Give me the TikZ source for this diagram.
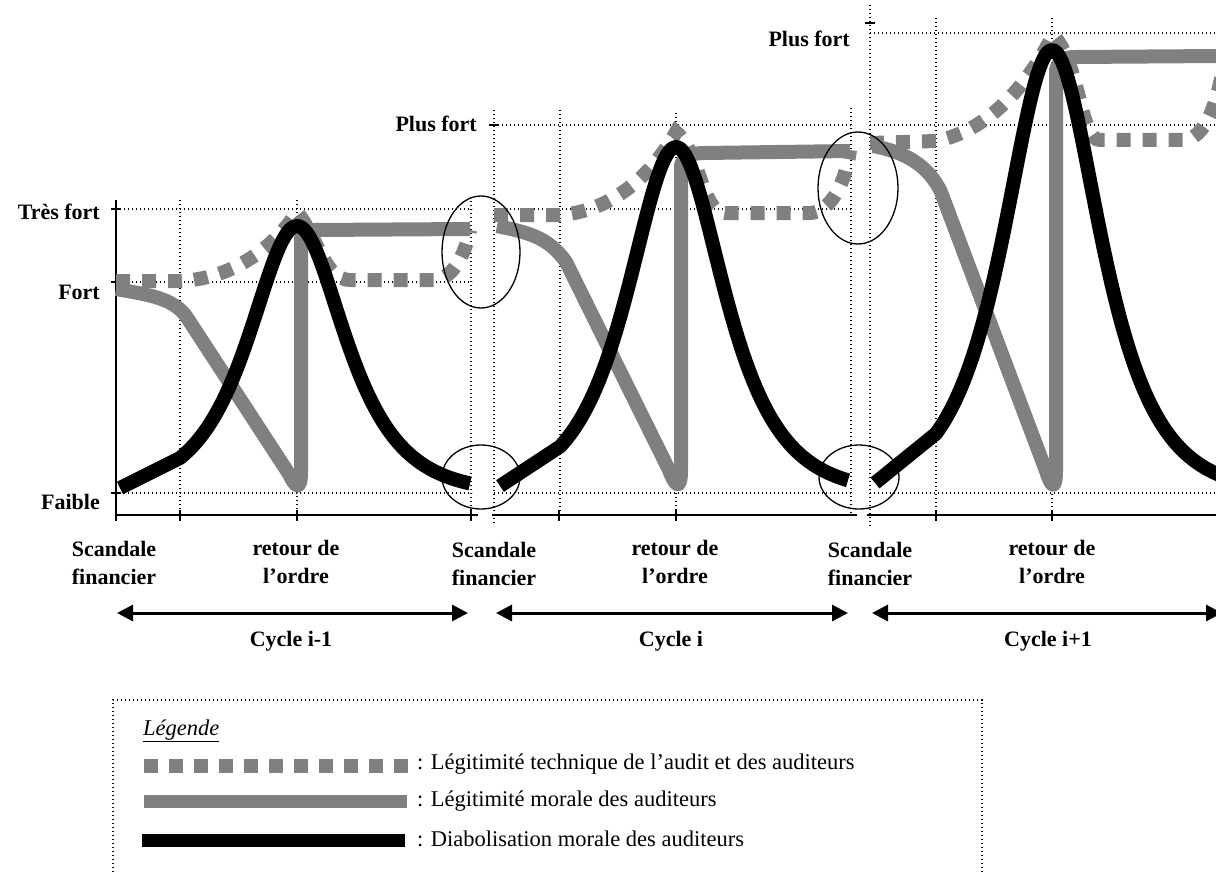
\documentclass[tikz,border=0pt]{standalone}
\usepackage{fontspec}
\setmainfont{Liberation Serif}
\usetikzlibrary{arrows.meta}
\definecolor{midgray}{RGB}{128,128,128}
\begin{document}
\begin{tikzpicture}[x=1pt,y=-1pt,
  declare function={pk(\x,\c,\a)=493-\a/cosh((\x-\c)/43);},
  dotln/.style={line width=1.4pt, dash pattern=on 1.4pt off 2.6pt},
  axisln/.style={line width=2.2pt},
  tickln/.style={line width=2pt},
  blk/.style={line width=14pt, line join=round},
  gsolid/.style={line width=14pt, draw=midgray, line join=round},
  gdot/.style={line width=14pt, draw=midgray, dash pattern=on 14pt off 12pt},
  ell/.style={line width=1.3pt},
  lbl/.style={font=\fontsize{22}{28}\selectfont\bfseries, inner sep=0pt, align=center},
  leg/.style={font=\fontsize{22.5}{28}\selectfont, inner sep=0pt, anchor=west},
  cyc/.style={line width=3pt, {Triangle[length=16pt,width=16pt]}-{Triangle[length=16pt,width=16pt]}}
]
\path[use as bounding box, clip] (0,0) rectangle (1216,872);
\fill[white] (0,0) rectangle (1216,872);

% ---------- dotted grid ----------
% panel 1
\draw[dotln] (116,209) -- (472,209);
\draw[dotln] (116,282) -- (472,282);
\draw[dotln] (116,493) -- (472,493);
\draw[dotln] (180,200) -- (180,515);
\draw[dotln] (297,200) -- (297,515);
\draw[dotln] (471,197) -- (471,515);
% panel 2
\draw[dotln] (494,125) -- (851,125);
\draw[dotln] (494,209) -- (851,209);
\draw[dotln] (494,493) -- (851,493);
\draw[dotln] (494,110) -- (494,526);
\draw[dotln] (560,110) -- (560,515);
\draw[dotln] (676,113) -- (676,515);
\draw[dotln] (851,108) -- (851,515);
% panel 3
\draw[dotln] (870,33) -- (1216,33);
\draw[dotln] (870,125) -- (1216,125);
\draw[dotln] (870,493) -- (1216,493);
\draw[dotln] (870,5) -- (870,526);
\draw[dotln] (936,18) -- (936,515);
\draw[dotln] (1052,18) -- (1052,515);

% ---------- axes ----------
\draw[axisln] (116,200) -- (116,521);
\draw[axisln] (116,515) -- (478,515);
\draw[axisln] (492,515) -- (857,515);
\draw[axisln] (867,515) -- (1216,515);
\foreach \yy in {209,282,493} \draw[tickln] (111,\yy) -- (121,\yy);
\draw[tickln] (489,125) -- (499,125);
\draw[tickln] (865,23) -- (875,23);
\foreach \xx in {180,297,471,559,676,936,1052} \draw[tickln] (\xx,510) -- (\xx,521);

% ---------- legitimite morale (gray solid) ----------
\draw[gsolid] (116,289) .. controls (150,295) and (172,298) .. (186,316)
  -- (289,474) .. controls (295,487) and (301,492) .. (301,472)
  -- (301,240) .. controls (301,233) and (305,230) .. (315,230) -- (470,229);
\draw[gsolid] (497,226) .. controls (525,232) and (548,236) .. (566,262)
  -- (669,470) .. controls (675,486) and (681,492) .. (681,470)
  -- (681,165) .. controls (684,156) and (692,153) .. (705,153) -- (850,151);
\draw[gsolid] (873,146) .. controls (905,152) and (928,165) .. (941,192)
  -- (1046,471) .. controls (1051,487) and (1056,492) .. (1056,470)
  -- (1056,70) .. controls (1058,62) and (1063,57) .. (1075,57) -- (1220,56);

% ---------- legitimite technique (gray dotted) ----------
\draw[gdot] (116,281) -- (180,281) .. controls (230,279) and (272,250) .. (297,212)
  .. controls (318,238) and (325,280) .. (350,280) -- (435,280)
  .. controls (455,278) and (466,250) .. (470,230);
\draw[gdot] (494,215) -- (560,215) .. controls (612,211) and (652,175) .. (676,132)
  .. controls (700,152) and (702,213) .. (725,213) -- (810,213)
  .. controls (832,212) and (846,180) .. (850,150);
\draw[gdot] (870,143) -- (936,141) .. controls (992,130) and (1030,80) .. (1053,35)
  .. controls (1080,62) and (1080,140) .. (1100,140) -- (1185,140)
  .. controls (1210,136) and (1220,90) .. (1226,50);

% ---------- diabolisation morale (black) ----------
\draw[blk] (120,488) -- plot[domain=180:470, samples=120] (\x,{pk(\x,297,267)});
\draw[blk] (500,486) -- plot[domain=560:848, samples=120] (\x,{pk(\x,676,346)});
\draw[blk] (875,483) -- plot[domain=936:1230, samples=120] (\x,{pk(\x,1052,443)});

% ---------- ellipses ----------
\draw[ell] (481,252) ellipse [x radius=39pt, y radius=56pt];
\draw[ell] (481,477) ellipse [x radius=39pt, y radius=32pt];
\draw[ell] (858,188) ellipse [x radius=40pt, y radius=56pt];
\draw[ell] (859,477) ellipse [x radius=40pt, y radius=32pt];

% ---------- level labels ----------
\node[lbl, anchor=east] (tf) at (100,212) {Très fort};
\node[lbl, anchor=east] (fo) at (100,292) {Fort};
\node[lbl, anchor=east] (fa) at (100,502) {Faible};
\node[lbl, anchor=east] (pf1) at (477,124) {Plus fort};
\node[lbl, anchor=east] (pf2) at (850,39) {Plus fort};

% ---------- event labels ----------
\node[lbl] (s1) at (114,563) {Scandale\\financier};
\node[lbl] (r1) at (296,562) {retour de\\l’ordre};
\node[lbl] (s2) at (494,564) {Scandale\\financier};
\node[lbl] (r2) at (675,562) {retour de\\l’ordre};
\node[lbl] (s3) at (870,564) {Scandale\\financier};
\node[lbl] (r3) at (1052,562) {retour de\\l’ordre};

% ---------- cycles ----------
\coordinate (a1) at (117,613); \coordinate (b1) at (468,613);
\coordinate (a2) at (496,613); \coordinate (b2) at (848,613);
\coordinate (a3) at (872,613); \coordinate (b3) at (1222,613);
\draw[cyc] (a1) -- (b1);
\draw[cyc] (a2) -- (b2);
\draw[cyc] (a3) -- (b3);
\node[lbl] (c1) at (291,641) {Cycle i-1};
\node[lbl] (c2) at (671,641) {Cycle i};
\node[lbl] (c3) at (1048,641) {Cycle i+1};

% ---------- legend ----------
\draw[dotln] (113,880) -- (113,700) -- (982,700) -- (982,880);
\node[leg] (lt) at (143,731) {\underline{\textit{Légende}}};
\draw[line width=14pt, draw=midgray, dash pattern=on 14pt off 11pt] (144,766) -- (408,766);
\draw[line width=13pt, draw=midgray] (144,801) -- (407,801);
\draw[line width=13pt] (142,840) -- (405,840);
\node[leg] (l1) at (417,764) {: Légitimité technique de l’audit et des auditeurs};
\node[leg] (l2) at (417,801) {: Légitimité morale des auditeurs};
\node[leg] (l3) at (417,839) {: Diabolisation morale des auditeurs};
\end{tikzpicture}
\end{document}
